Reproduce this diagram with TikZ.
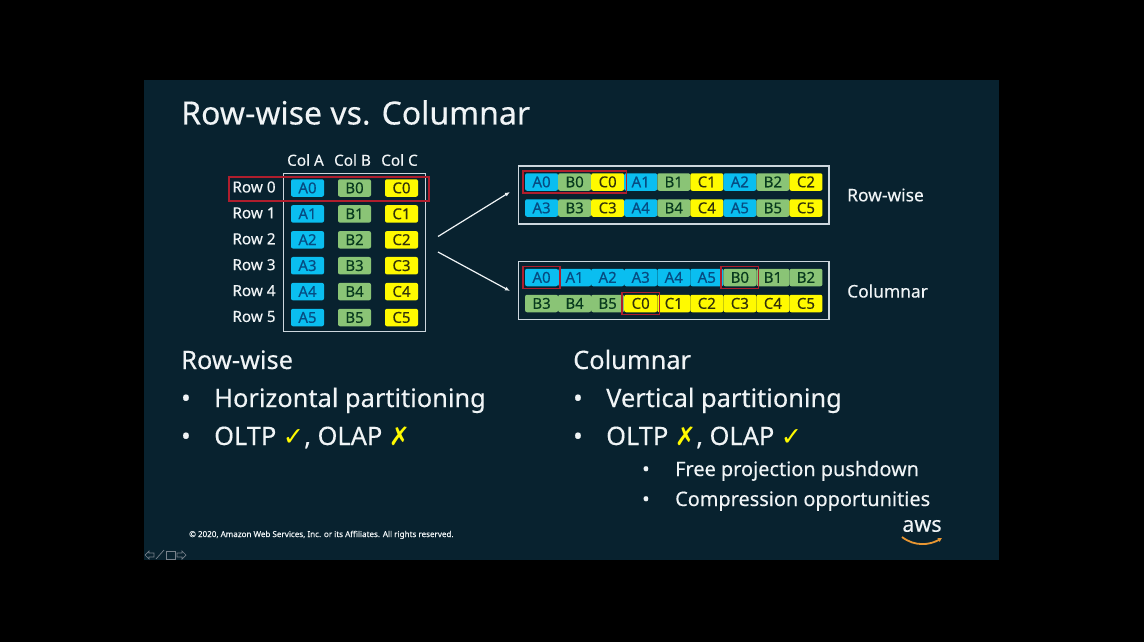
\documentclass[tikz,border=0pt]{standalone}
\usepackage{fontspec}
\setmainfont[FakeBold=0.25]{Noto Sans}
\newfontfamily\symfont{DejaVu Sans}
\usetikzlibrary{arrows.meta,positioning,fit,calc}
\definecolor{slidebg}{RGB}{8,34,47}
\definecolor{softwhite}{RGB}{240,244,246}
\definecolor{framegray}{RGB}{205,215,222}
\definecolor{bluecell}{RGB}{10,190,240}
\definecolor{bluetext}{RGB}{6,76,130}
\definecolor{greencell}{RGB}{138,196,118}
\definecolor{greentext}{RGB}{8,58,30}
\definecolor{yellowcell}{RGB}{255,250,0}
\definecolor{yellowtext}{RGB}{50,50,10}
\definecolor{redmark}{RGB}{175,30,45}
\definecolor{awsorange}{RGB}{232,150,50}
\definecolor{navgray}{RGB}{120,130,140}
\tikzset{
  cellbase/.style={rounded corners=2pt, minimum width=33pt, minimum height=17.5pt,
    inner sep=0pt, text height=10.5pt, text depth=0pt, font=\fontsize{15}{16}\selectfont},
  cellA/.style={cellbase, fill=bluecell, text=bluetext},
  cellB/.style={cellbase, fill=greencell, text=greentext},
  cellC/.style={cellbase, fill=yellowcell, text=yellowtext},
  smalllabel/.style={text=softwhite, inner sep=0pt, font=\fontsize{15.3}{17}\selectfont},
  sidelabel/.style={text=softwhite, inner sep=0pt, anchor=west, font=\fontsize{17.4}{20}\selectfont},
  heading/.style={text=softwhite, inner sep=0pt, anchor=base west, font=\fontsize{25.4}{30}\selectfont},
  subitem/.style={text=softwhite, inner sep=0pt, anchor=base west, font=\fontsize{19.9}{23}\selectfont},
  framebox/.style={draw=framegray, line width=1.4pt, inner sep=0pt},
  redbox/.style={draw=redmark, line width=1.6pt, inner sep=2pt},
  flow/.style={-{Latex[length=5pt,width=4pt]}, line width=1.2pt, draw=softwhite}
}
\newcommand{\yes}{\textcolor{yellowcell}{\symfont ✓}}
\newcommand{\no}{\textcolor{yellowcell}{\symfont ✗}}
\begin{document}
\begin{tikzpicture}[x=1pt,y=-1pt]
\fill[black] (0,0) rectangle (1144,642);
\useasboundingbox (0,0) rectangle (1144,642);
\fill[slidebg] (144,80) rectangle (999,560);

\node[text=softwhite, inner sep=0pt, anchor=base west, font=\fontsize{32}{38}\selectfont] (title) at (181,124.5) {Row-wise vs. Columnar};

% table on the left
\foreach \l/\x in {A/307.5,B/354.5,C/401.5} {
  \node[smalllabel] (head\l) at (\x-2,160) {Col \l};
  \foreach \n in {0,...,5}
    \node[cell\l] (m\l\n) at (\x,188+25.9*\n) {\l\n};
}
\foreach \n in {0,...,5}
  \node[smalllabel] (row\n) at (254,187+25.9*\n) {Row \n};
\node[framebox, minimum width=142pt, minimum height=158.5pt] (table) at (354.7,252.5) {};
\node[draw=redmark, line width=1.6pt, minimum width=200pt, minimum height=24pt, inner sep=0pt] (rowmark) at (329,189) {};

% stored rows on the right
\foreach \l/\n [count=\i] in {A/0,B/0,C/0,A/1,B/1,C/1,A/2,B/2,C/2}
  \node[cell\l] (ra\i) at (525+33.05*\i-16.5,182) {\l\n};
\foreach \l/\n [count=\i] in {A/3,B/3,C/3,A/4,B/4,C/4,A/5,B/5,C/5}
  \node[cell\l] (rb\i) at (525+33.05*\i-16.5,208) {\l\n};
\foreach \l/\n [count=\i] in {A/0,A/1,A/2,A/3,A/4,A/5,B/0,B/1,B/2}
  \node[cell\l] (ca\i) at (525+33.05*\i-16.5,277.5) {\l\n};
\foreach \l/\n [count=\i] in {B/3,B/4,B/5,C/0,C/1,C/2,C/3,C/4,C/5}
  \node[cell\l] (cb\i) at (525+33.05*\i-16.5,303.5) {\l\n};

\node[framebox, inner xsep=6.5pt, inner ysep=7pt, fit=(ra1)(rb9)] (rowframe) {};
\node[framebox, inner xsep=6.5pt, inner ysep=7pt, fit=(ca1)(cb9)] (colframe) {};
\node[redbox, fit=(ra1)(ra3)] (markrow) {};
\node[redbox, fit=(ca1)] (markA) {};
\node[redbox, fit=(ca7)] (markB) {};
\node[redbox, fit=(cb4)] (markC) {};

\node[sidelabel] (rowname) at (847,195) {Row-wise};
\node[sidelabel] (colname) at (847,291) {Columnar};

\coordinate (fromup) at (438,236.5);
\coordinate (fromdown) at (438,252);
\coordinate (toup) at (510,192);
\coordinate (todown) at (510,291);
\draw[flow] (fromup)--(toup);
\draw[flow] (fromdown)--(todown);

% text below
\node[heading] (rowhead) at (181,369) {Row-wise};
\node[heading] (rowb1) at (181,407) {•};
\node[heading] (rowt1) at (214,407) {Horizontal partitioning};
\node[heading] (rowb2) at (181,445) {•};
\node[heading] (rowt2) at (214,445) {OLTP \yes, OLAP \no};

\node[heading] (colhead) at (573,369) {Columnar};
\node[heading] (colb1) at (573,407) {•};
\node[heading] (colt1) at (606,407) {Vertical partitioning};
\node[heading] (colb2) at (573,445) {•};
\node[heading] (colt2) at (606,445) {OLTP \no, OLAP \yes};
\node[subitem] (subb1) at (642,476) {•};
\node[subitem] (subt1) at (675,476) {Free projection pushdown};
\node[subitem] (subb2) at (642,506) {•};
\node[subitem] (subt2) at (675,506) {Compression opportunities};

\node[text=softwhite, inner sep=0pt, anchor=base west, font=\fontsize{8.05}{10}\selectfont] (legal) at (189,537) {© 2020, Amazon Web Services, Inc. or its Affiliates. All rights reserved.};

% logo
\node[text=softwhite, inner sep=0pt, font=\fontsize{21.5}{26}\selectfont] (aws) at (922,526) {aws};
\coordinate (smileL) at (902,537);
\coordinate (smileR) at (942,538);
\draw[awsorange, line width=1.8pt, -{Latex[length=4pt,width=5pt]}] (smileL) .. controls (915,547) and (930,545) .. (smileR);

% navigation marks
\draw[navgray, line width=.7pt] (145,555)--(149,551)--(149,553)--(154,553)--(154,557)--(149,557)--(149,559)--cycle;
\draw[navgray, line width=.7pt] (156,559)--(164,550);
\draw[navgray, line width=.7pt] (166,551) rectangle (175,559);
\draw[navgray, line width=.7pt] (186,555)--(182,551)--(182,553)--(177,553)--(177,557)--(182,557)--(182,559)--cycle;
\end{tikzpicture}
\end{document}
